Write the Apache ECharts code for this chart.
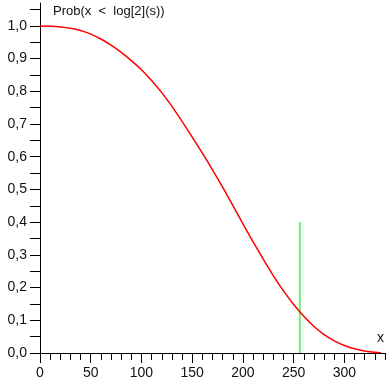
<!DOCTYPE html>
<html><head><meta charset="utf-8">
<script src="https://cdn.jsdelivr.net/npm/echarts@6/dist/echarts.min.js"></script>
<style>html,body{margin:0;padding:0;background:#fff}#c{width:386px;height:384px}</style>
</head><body><div id="c"></div>
<script>
const xValues = [0,10,20,30,40,50,60,70,80,90,100,110,120,130,140,150,160,170,180,190,200,210,220,230,240,250,260,270,280,290,300,310,320,330,336];
const probValues = [1.000,0.999,0.997,0.993,0.986,0.975,0.960,0.941,0.919,0.894,0.866,0.833,0.796,0.754,0.708,0.660,0.611,0.560,0.507,0.451,0.395,0.340,0.287,0.236,0.190,0.148,0.112,0.081,0.056,0.037,0.023,0.013,0.006,0.002,0.001];
const markerX = 256;
const markerY = [0, 0.4];
const yTickValues = [0,0.05,0.1,0.15,0.2,0.25,0.3,0.35,0.4,0.45,0.5,0.55,0.6,0.65,0.7,0.75,0.8,0.85,0.9,0.95,1.0,1.05];
const yLabelValues = [0,0.1,0.2,0.3,0.4,0.5,0.6,0.7,0.8,0.9,1.0];
const xMinorTicks = [0,10,20,30,40,50,60,70,80,90,100,110,120,130,140,150,160,170,180,190,200,210,220,230,240,250,260,270,280,290,300,310,320,330,340];
const xMajorTicks = [0,50,100,150,200,250,300];
const titleText = 'Prob(x  <  log[2](s))';
const xName = 'x';

const font = '"Liberation Sans", Arial, Helvetica, sans-serif';
const chart = echarts.init(document.getElementById('c'), null, {renderer: 'canvas'});
const curve = xValues.map((x, i) => [x, probValues[i]]);
const marker = markerY.map(y => [markerX, y]);
chart.setOption({
  animation: false,
  backgroundColor: '#fff',
  grid: {left: 40, right: 1, top: 3, bottom: 31, containLabel: false},
  xAxis: [{
    type: 'value', min: 0, max: 340,
    axisLine: {show: true, lineStyle: {color: '#000', width: 1}},
    axisTick: {show: true, length: 7, customValues: xMinorTicks, lineStyle: {color: '#000'}},
    axisLabel: {customValues: xMajorTicks, margin: 13, color: '#111', fontSize: 14, fontFamily: font},
    splitLine: {show: false}
  }, {
    type: 'value', min: 0, max: 340, position: 'bottom',
    axisLine: {show: false},
    axisTick: {show: true, length: 10, customValues: xMajorTicks, lineStyle: {color: '#000'}},
    axisLabel: {show: false},
    splitLine: {show: false}
  }],
  yAxis: {
    type: 'value', min: 0, max: 1.07,
    axisLine: {show: true, lineStyle: {color: '#000', width: 1}},
    axisTick: {show: true, length: 10, customValues: yTickValues, lineStyle: {color: '#000'}},
    axisLabel: {customValues: yLabelValues, margin: 13, color: '#111', fontSize: 14, fontFamily: font,
      formatter: v => v.toFixed(1).replace('.', ',')},
    splitLine: {show: false}
  },
  graphic: [
    {type: 'text', left: 53, top: 5, style: {text: titleText, fill: '#111', font: '13px ' + font}},
    {type: 'text', left: 377, top: 331, style: {text: xName, fill: '#111', font: '14px ' + font}}
  ],
  series: [
    {type: 'line', data: curve, xAxisIndex: 0, showSymbol: false, smooth: 0.3, lineStyle: {color: '#ff0000', width: 1.5}, z: 3},
    {type: 'line', data: marker, xAxisIndex: 0, showSymbol: false, lineStyle: {color: '#6ef06e', width: 2}, z: 2}
  ]
});
</script></body></html>
